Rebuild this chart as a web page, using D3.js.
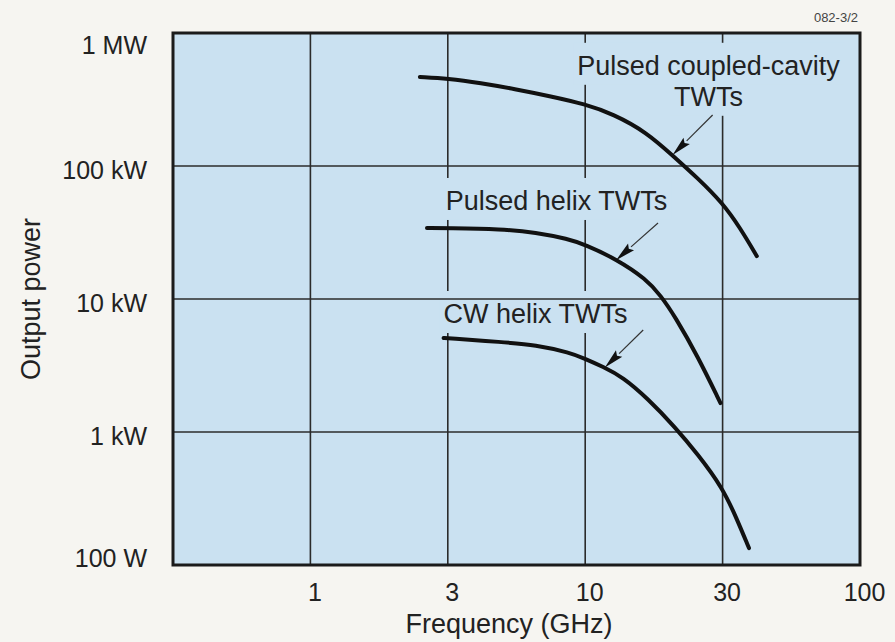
<!DOCTYPE html>
<html>
<head>
<meta charset="utf-8">
<script src="https://cdn.jsdelivr.net/npm/d3@7"></script>
<style>
  html, body { margin: 0; padding: 0; background: #f6f5f1; }
  svg { display: block; }
  text { font-family: "Liberation Sans", Arial, Helvetica, sans-serif; fill: #222; }
</style>
</head>
<body>
<svg id="chart" width="895" height="642"></svg>
<script>
// Frequency grid (GHz) – the axis runs in 1-3-10 steps, each step one grid cell
const freqBreaks = [0.3, 1, 3, 10, 30, 100];
const freqTicks = [1, 3, 10, 30, 100];
const freqTickLabels = ["1", "3", "10", "30", "100"];

// Output power grid (W)
const powerTicks = [100, 1e3, 1e4, 1e5, 1e6];
const powerTickLabels = ["100 W", "1 kW", "10 kW", "100 kW", "1 MW"];

// Pulsed coupled-cavity TWTs
const coupledFreq  = [2.4, 3, 4.0, 5.4, 7.3, 10, 12.5, 16.3, 20.2, 24.6, 30, 35.0, 40.5];
const coupledPower = [467e3, 455e3, 421e3, 379e3, 336e3, 292e3, 246e3, 180e3, 119e3, 81e3, 52.7e3, 34.2e3, 21e3];

// Pulsed helix TWTs
const pulsedFreq  = [2.54, 3, 4.8, 6.5, 8.6, 10, 12.8, 16.3, 18.3, 20.5, 24.6, 29.5];
const pulsedPower = [34.2e3, 34.2e3, 33.6e3, 31.6e3, 28.3e3, 25.6e3, 20.0e3, 14.1e3, 10.6e3, 7.4e3, 3.7e3, 1.65e3];

// CW helix TWTs
const cwFreq  = [2.9, 3, 4.8, 6.5, 8.75, 10, 11.5, 13.5, 16.5, 20.5, 24.6, 30, 33.8, 37.8];
const cwPower = [5.09e3, 5.07e3, 4.75e3, 4.51e3, 3.95e3, 3.55e3, 3.1e3, 2.59e3, 1.78e3, 1.09e3, 680, 380, 228, 134];

const seriesNames = ["Pulsed coupled-cavity TWTs", "Pulsed helix TWTs", "CW helix TWTs"];

// Curve labels: text lines, anchor (GHz, W) and alignment
const labelLines  = [["Pulsed coupled-cavity", "TWTs"], ["Pulsed helix TWTs"], ["CW helix TWTs"]];
const labelFreq   = [26.8, 2.95, 2.9];
const labelPower  = [485e3, 46.7e3, 6.6e3];
const labelAnchor = ["middle", "start", "start"];

// Pointer arrows from label to curve: tail and tip (GHz, W)
const arrowTailFreq  = [27.7, 17.9, 15.9];
const arrowTailPower = [242e3, 37.3e3, 5.85e3];
const arrowTipFreq   = [20.1, 12.8, 11.7];
const arrowTipPower  = [121e3, 19.6e3, 3.05e3];

const figureCode = "082-3/2";

// ---------------------------------------------------------------
const svg = d3.select("#chart");
const plot = { left: 173, top: 33, right: 860, bottom: 565 };
const cellW = (plot.right - plot.left) / (freqBreaks.length - 1);

const x = d3.scaleLog()
  .domain(freqBreaks)
  .range(freqBreaks.map((d, i) => plot.left + i * cellW));
const y = d3.scaleLog()
  .domain([100, 1e6])
  .range([plot.bottom, plot.top]);

const plotFill = "#cae1f1";
const gridColor = "#2b2b2b";

// plot area
svg.append("rect")
  .attr("x", plot.left).attr("y", plot.top)
  .attr("width", plot.right - plot.left).attr("height", plot.bottom - plot.top)
  .attr("fill", plotFill);

// vertical grid lines
const vGrid = svg.append("g");
vGrid.selectAll("line").data(freqTicks.slice(0, -1)).join("line")
  .attr("x1", d => x(d)).attr("x2", d => x(d))
  .attr("y1", plot.top).attr("y2", plot.bottom)
  .attr("stroke", gridColor).attr("stroke-width", 1.6);

// label knock-outs (filled in once the label text has been measured)
const knockLayer = svg.append("g");

// horizontal grid lines
const hGrid = svg.append("g");
hGrid.selectAll("line").data(powerTicks.slice(1, -1)).join("line")
  .attr("x1", plot.left).attr("x2", plot.right)
  .attr("y1", d => y(d)).attr("y2", d => y(d))
  .attr("stroke", gridColor).attr("stroke-width", 1.6);

// frame
svg.append("rect")
  .attr("x", plot.left).attr("y", plot.top)
  .attr("width", plot.right - plot.left).attr("height", plot.bottom - plot.top)
  .attr("fill", "none").attr("stroke", "#1b1b1b").attr("stroke-width", 3);

// curves
const series = [
  { f: coupledFreq, p: coupledPower },
  { f: pulsedFreq, p: pulsedPower },
  { f: cwFreq, p: cwPower }
];
const line = d3.line()
  .x(d => x(d[0])).y(d => y(d[1]))
  .curve(d3.curveBasis);
svg.append("g").selectAll("path").data(series).join("path")
  .attr("d", s => line(s.f.map((f, i) => [f, s.p[i]])))
  .attr("fill", "none").attr("stroke", "#111")
  .attr("stroke-width", 4).attr("stroke-linecap", "round");

// arrows
const arrows = svg.append("g");
arrowTailFreq.forEach((_, i) => {
  const x0 = x(arrowTailFreq[i]), y0 = y(arrowTailPower[i]);
  const x1 = x(arrowTipFreq[i]), y1 = y(arrowTipPower[i]);
  const ang = Math.atan2(y1 - y0, x1 - x0);
  const headLen = 20, headHalf = 4.5;
  const bx = x1 - headLen * Math.cos(ang), by = y1 - headLen * Math.sin(ang);
  arrows.append("line")
    .attr("x1", x0).attr("y1", y0).attr("x2", bx).attr("y2", by)
    .attr("stroke", "#333").attr("stroke-width", 1.2);
  const px = -Math.sin(ang), py = Math.cos(ang);
  arrows.append("path")
    .attr("d", `M${x1},${y1}L${bx + px * headHalf},${by + py * headHalf}L${bx + ((x1 - bx) * 0.15)},${by + ((y1 - by) * 0.15)}L${bx - px * headHalf},${by - py * headHalf}Z`)
    .attr("fill", "#111");
});

// curve labels with knock-out boxes behind each line
const labels = svg.append("g");
labelLines.forEach((lines, i) => {
  const tx = labels.append("text")
    .attr("text-anchor", labelAnchor[i])
    .attr("font-size", 27);
  lines.forEach((t, j) => {
    const ts = tx.append("tspan")
      .attr("x", x(labelFreq[i]))
      .attr("y", y(labelPower[i]) + j * 31)
      .text(t);
    const b = ts.node().getBBox();
    knockLayer.append("rect")
      .attr("x", b.x - 4).attr("y", b.y - 8)
      .attr("width", b.width + 8).attr("height", b.height + 12)
      .attr("fill", plotFill);
  });
});

// axes: tick labels only
const xAxis = d3.axisBottom(x)
  .tickValues(freqTicks)
  .tickFormat((d, i) => freqTickLabels[i])
  .tickSize(0).tickPadding(0);
const gx = svg.append("g")
  .attr("transform", `translate(0,${plot.bottom})`)
  .call(xAxis);
gx.select(".domain").remove();
gx.selectAll("text")
  .attr("font-family", null).attr("fill", null)
  .attr("font-size", 25)
  .attr("dy", null).attr("x", 4).attr("y", 36);

const yAxis = d3.axisLeft(y)
  .tickValues(powerTicks)
  .tickFormat((d, i) => powerTickLabels[i])
  .tickSize(0).tickPadding(26);
const gy = svg.append("g")
  .attr("transform", `translate(${plot.left},0)`)
  .call(yAxis);
gy.select(".domain").remove();
gy.selectAll("text")
  .attr("font-family", null).attr("fill", null)
  .attr("font-size", 25)
  .attr("dy", "0.36em")
  .attr("y", d => {
    const yy = y(d);
    return Math.min(Math.max(yy + 3, plot.top + 11), plot.bottom - 8) - yy;
  });
svg.selectAll(".tick line").remove();

// axis titles
svg.append("text")
  .attr("x", 509).attr("y", 633)
  .attr("text-anchor", "middle").attr("font-size", 27)
  .text("Frequency (GHz)");
svg.append("text")
  .attr("transform", `translate(40,${(plot.top + plot.bottom) / 2}) rotate(-90)`)
  .attr("text-anchor", "middle").attr("font-size", 27)
  .text("Output power");

// figure code
svg.append("text")
  .attr("x", 858).attr("y", 22)
  .attr("text-anchor", "end").attr("font-size", 13)
  .style("fill", "#444")
  .text(figureCode);
</script>
</body>
</html>
